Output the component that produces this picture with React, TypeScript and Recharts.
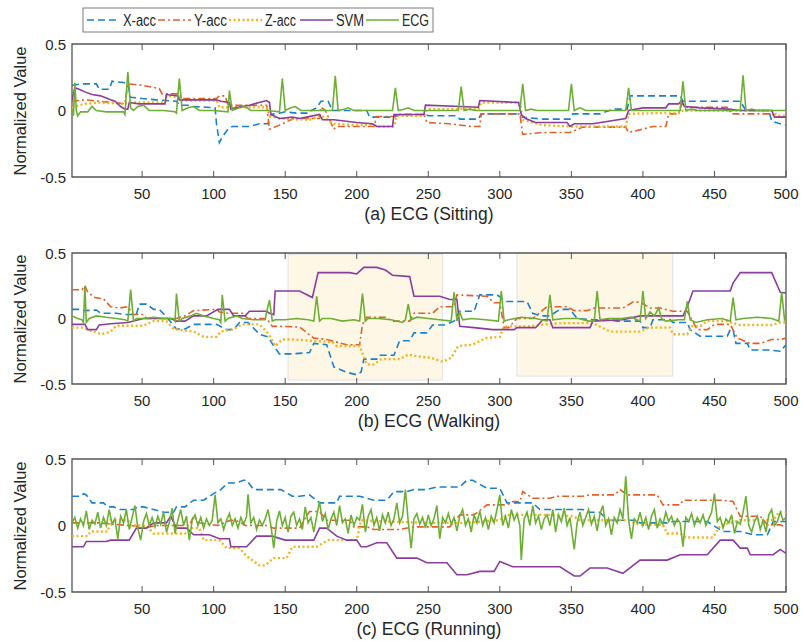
import { LineChart, Line, XAxis, YAxis, ReferenceArea } from 'recharts';

type Pt = [number, number];

const seriesNames = ['X-acc', 'Y-acc', 'Z-acc', 'SVM', 'ECG'];
const panelTitles = ['(a) ECG (Sitting)', '(b) ECG (Walking)', '(c) ECG (Running)'];
const xTicks = [50, 100, 150, 200, 250, 300, 350, 400, 450, 500];
const yTicks = [-0.5, 0, 0.5];
// highlighted windows in the walking panel: [from, to, low, high]
const walkWindows: [number, number, number, number][] = [
  [152, 260, -0.47, 0.49],
  [312, 421, -0.44, 0.5],
];

// ---- (a) sitting ----
const sitX: Pt[] = [[1,0.19],[8,0.2],[18,0.2],[20,0.16],[27,0.16],[29,0.22],[37,0.21],[40,0.2],[42,0.1],[50,0.09],[60,0.08],[74,0.07],[76,0.04],[82,0.04],[85,0.03],[95,0.025],[101,0.02],[102,-0.1],[104,-0.24],[106,-0.2],[110,-0.14],[113,-0.12],[125,-0.12],[132,-0.1],[138,-0.1],[140,-0.03],[146,-0.02],[150,-0.01],[158,-0.02],[167,-0.02],[168,0.0],[172,0.02],[175,0.07],[180,0.07],[183,0.0],[207,0.0],[209,-0.05],[226,-0.05],[230,-0.03],[248,-0.03],[250,-0.04],[270,-0.04],[272,-0.065],[285,-0.065],[287,-0.025],[312,-0.025],[316,-0.05],[330,-0.065],[349,-0.065],[351,-0.025],[370,-0.025],[379,0.01],[389,0.01],[391,0.11],[426,0.11],[428,0.07],[468,0.07],[472,0.0],[488,0.0],[490,-0.08],[496,-0.1],[500,-0.11]];
const sitY: Pt[] = [[1,0.07],[10,0.08],[20,0.07],[30,0.06],[38,0.05],[40,0.2],[50,0.19],[62,0.165],[64,0.125],[76,0.125],[78,0.09],[102,0.09],[104,0.11],[108,0.11],[110,0.04],[125,0.04],[137,0.04],[139,-0.14],[146,-0.11],[156,-0.06],[167,-0.06],[174,-0.06],[175,0.025],[178,0.0],[184,-0.14],[186,-0.12],[212,-0.12],[214,-0.045],[226,-0.045],[228,-0.03],[247,-0.03],[249,-0.09],[265,-0.1],[280,-0.12],[286,-0.12],[287,-0.025],[314,-0.025],[316,-0.18],[330,-0.165],[349,-0.165],[358,-0.125],[388,-0.125],[390,-0.165],[400,-0.14],[407,-0.12],[416,-0.12],[418,-0.025],[425,-0.025],[427,0.05],[431,0.025],[459,0.025],[462,-0.025],[490,-0.025],[494,-0.05],[500,-0.05]];
const sitZ: Pt[] = [[1,0.02],[6,0.04],[10,0.05],[20,0.06],[38,0.05],[40,0.06],[66,0.06],[67,0.11],[76,0.1],[78,0.075],[102,0.075],[104,0.025],[137,0.025],[139,-0.04],[146,-0.06],[167,-0.07],[175,-0.04],[184,-0.1],[200,-0.11],[211,-0.11],[214,-0.12],[226,-0.12],[228,-0.04],[247,-0.04],[249,0.01],[285,0.01],[287,0.06],[314,0.06],[316,-0.07],[330,-0.11],[349,-0.12],[388,-0.12],[390,-0.025],[410,-0.02],[426,-0.02],[428,0.0],[490,0.0],[494,-0.04],[500,-0.04]];
const sitS: Pt[] = [[1,0.08],[3,0.17],[6,0.16],[10,0.14],[15,0.12],[21,0.11],[28,0.08],[31,0.07],[35,0.03],[38,0.01],[40,0.01],[41,0.06],[48,0.05],[66,0.05],[67,0.12],[75,0.11],[76,0.08],[102,0.08],[105,0.07],[111,0.06],[112,0.01],[115,0.02],[125,0.04],[137,0.075],[139,0.06],[140,-0.03],[146,-0.06],[155,-0.05],[160,-0.06],[165,-0.05],[174,-0.03],[176,-0.07],[184,-0.07],[200,-0.09],[211,-0.1],[214,-0.12],[225,-0.12],[226,-0.03],[247,-0.03],[248,0.04],[285,0.025],[286,0.075],[313,0.06],[315,-0.03],[318,-0.06],[325,-0.09],[347,-0.09],[349,-0.12],[352,-0.1],[365,-0.1],[388,-0.06],[390,0.0],[400,0.02],[416,0.02],[418,0.05],[425,0.05],[427,0.075],[429,0.03],[440,0.02],[460,0.01],[468,0.0],[490,0.0],[492,-0.05],[500,-0.05]];
const sitECG: Pt[] = [[1,0.0],[2,-0.04],[3,0.21],[4,0.0],[5,-0.04],[7,-0.01],[12,-0.01],[15,0.03],[18,0.0],[25,-0.01],[37,-0.01],[38,-0.03],[40,0.29],[42,0.02],[44,0.0],[47,0.03],[51,0.04],[55,0.0],[65,0.0],[73,-0.01],[74,-0.02],[76,0.24],[78,0.0],[82,0.02],[86,0.03],[90,0.0],[100,0.0],[110,-0.01],[111,0.15],[113,0.0],[118,0.02],[122,0.03],[126,0.0],[138,0.0],[146,-0.01],[148,0.24],[150,0.0],[154,0.02],[157,0.03],[161,0.0],[175,0.0],[183,0.0],[185,0.26],[187,0.0],[191,0.01],[194,0.02],[198,0.0],[210,0.0],[225,0.0],[227,0.17],[229,0.0],[233,0.01],[236,0.02],[240,0.0],[260,0.0],[271,0.0],[273,0.18],[275,0.0],[279,0.01],[283,0.0],[300,0.0],[314,0.0],[316,0.2],[318,0.0],[322,0.01],[326,0.0],[340,0.0],[348,0.0],[350,0.2],[352,0.0],[356,0.02],[360,0.0],[375,0.0],[388,0.0],[390,0.17],[392,0.0],[396,0.0],[410,0.0],[426,0.0],[428,0.22],[430,0.0],[434,0.01],[438,0.0],[455,0.0],[468,0.0],[470,0.265],[472,0.0],[476,0.01],[480,0.0],[500,0.0]];

// ---- (b) walking ----
const walkX: Pt[] = [[1,0.07],[8,0.07],[10,0.06],[18,0.065],[21,0.04],[32,0.04],[39,0.03],[46,0.03],[48,0.11],[53,0.11],[58,0.07],[62,0.07],[68,0.0],[74,-0.08],[80,-0.08],[86,-0.045],[102,-0.045],[109,-0.085],[114,-0.085],[118,-0.03],[124,-0.03],[132,-0.12],[138,-0.14],[142,-0.21],[146,-0.27],[155,-0.27],[167,-0.26],[170,-0.19],[179,-0.2],[184,-0.37],[193,-0.41],[200,-0.43],[203,-0.41],[205,-0.31],[214,-0.31],[216,-0.28],[226,-0.28],[230,-0.17],[237,-0.17],[240,-0.11],[249,-0.11],[253,-0.05],[261,-0.05],[268,-0.02],[272,0.055],[282,0.055],[286,0.18],[298,0.18],[305,0.13],[319,0.13],[323,0.04],[328,0.02],[335,0.02],[342,0.07],[349,0.07],[354,0.0],[365,-0.01],[375,-0.01],[382,-0.02],[398,-0.02],[400,-0.07],[405,-0.07],[407,-0.01],[419,-0.01],[421,-0.03],[431,-0.03],[433,-0.085],[440,-0.135],[459,-0.135],[461,-0.085],[463,-0.085],[465,-0.19],[473,-0.19],[475,-0.24],[487,-0.24],[496,-0.25],[500,-0.2]];
const walkY: Pt[] = [[1,0.22],[8,0.22],[10,0.25],[12,0.2],[17,0.16],[23,0.15],[28,0.09],[34,0.08],[40,0.09],[44,0.03],[51,0.03],[53,0.0],[74,0.0],[80,0.02],[86,0.06],[102,0.07],[104,0.05],[110,0.04],[120,0.04],[124,0.0],[137,0.0],[141,-0.06],[148,-0.06],[160,-0.065],[170,-0.15],[179,-0.16],[193,-0.2],[202,-0.2],[204,-0.045],[207,0.01],[220,0.01],[225,-0.02],[237,-0.02],[240,0.04],[253,0.04],[258,0.09],[268,0.09],[270,0.18],[291,0.17],[296,0.12],[300,0.12],[303,-0.07],[306,-0.07],[312,0.0],[323,0.0],[333,0.09],[347,0.09],[352,0.06],[361,0.06],[366,0.08],[386,0.08],[393,0.125],[398,0.125],[405,0.08],[412,0.08],[421,0.055],[431,0.055],[438,-0.085],[445,-0.085],[450,-0.045],[461,-0.045],[466,-0.15],[475,-0.19],[482,-0.19],[490,-0.16],[496,-0.16],[500,-0.15]];
const walkZ: Pt[] = [[1,-0.07],[8,-0.07],[16,-0.1],[22,-0.12],[28,-0.1],[32,-0.055],[51,-0.055],[58,-0.02],[67,-0.02],[72,-0.08],[86,-0.1],[93,-0.14],[102,-0.14],[105,-0.1],[114,-0.08],[120,-0.045],[132,-0.045],[137,-0.1],[140,-0.15],[143,-0.21],[148,-0.16],[155,-0.16],[168,-0.17],[183,-0.18],[186,-0.21],[202,-0.21],[207,-0.35],[212,-0.35],[217,-0.31],[230,-0.31],[236,-0.275],[243,-0.29],[252,-0.3],[260,-0.33],[266,-0.3],[271,-0.21],[281,-0.2],[290,-0.15],[300,-0.14],[303,-0.06],[320,-0.06],[335,-0.04],[348,-0.035],[365,-0.035],[377,-0.1],[398,-0.1],[404,-0.07],[419,-0.07],[421,-0.12],[431,-0.12],[434,-0.06],[440,-0.06],[445,-0.02],[458,-0.02],[468,-0.05],[490,-0.05],[496,-0.03],[500,-0.03]];
const walkS: Pt[] = [[1,-0.045],[10,-0.045],[12,-0.085],[18,-0.085],[20,-0.05],[28,-0.04],[40,-0.03],[51,0.0],[70,0.0],[74,-0.02],[80,-0.02],[86,0.02],[95,0.02],[103,0.07],[111,0.07],[114,0.02],[122,0.02],[125,0.055],[137,0.055],[139,0.04],[142,0.03],[143,0.21],[150,0.21],[160,0.21],[169,0.16],[173,0.35],[177,0.35],[195,0.35],[200,0.34],[205,0.39],[214,0.39],[220,0.37],[225,0.33],[237,0.32],[240,0.17],[258,0.17],[265,0.145],[270,0.145],[272,-0.06],[282,-0.07],[295,-0.085],[310,-0.085],[312,-0.07],[325,-0.07],[330,-0.01],[335,-0.01],[337,-0.07],[363,-0.07],[365,-0.02],[386,-0.01],[398,0.02],[428,0.02],[431,0.09],[435,0.21],[461,0.21],[463,0.27],[468,0.35],[490,0.35],[496,0.2],[500,0.195]];
const walkECG: Pt[] = [[1,0.02],[5,0.0],[8,-0.01],[9,-0.03],[10,0.25],[11,-0.03],[13,0.0],[18,0.02],[25,0.01],[32,0.0],[38,-0.01],[40,-0.02],[42,0.22],[44,-0.02],[46,0.0],[52,0.0],[58,0.01],[65,0.0],[72,0.0],[73,-0.02],[74,0.19],[76,-0.02],[78,0.0],[84,0.02],[88,0.04],[93,0.02],[100,0.0],[104,-0.01],[105,-0.03],[106,0.18],[108,-0.02],[110,0.0],[116,0.02],[120,0.0],[128,-0.01],[136,-0.01],[137,0.05],[139,0.14],[141,-0.02],[143,-0.01],[150,-0.01],[158,0.0],[166,-0.01],[170,-0.02],[172,0.17],[174,-0.02],[176,0.0],[182,0.0],[190,-0.02],[198,-0.01],[202,-0.02],[204,0.19],[206,-0.02],[208,0.0],[215,0.0],[224,-0.01],[232,-0.03],[234,-0.01],[236,0.11],[238,-0.01],[242,0.01],[250,0.0],[258,-0.01],[266,-0.02],[268,0.2],[270,-0.02],[272,0.05],[274,-0.01],[280,0.0],[290,-0.01],[299,-0.02],[301,0.21],[303,-0.02],[306,-0.01],[315,0.01],[325,0.0],[333,-0.02],[335,0.18],[337,-0.01],[345,0.0],[355,0.0],[362,-0.02],[366,-0.02],[368,0.21],[370,-0.01],[376,0.0],[385,0.0],[392,0.01],[398,-0.02],[400,0.21],[402,0.0],[405,0.05],[408,0.02],[411,0.08],[413,0.0],[416,-0.02],[425,-0.01],[429,-0.01],[431,0.13],[433,-0.01],[437,-0.03],[445,-0.01],[455,0.0],[461,-0.02],[463,0.16],[465,-0.01],[470,0.0],[480,0.01],[490,0.0],[495,-0.02],[497,0.2],[499,-0.01],[500,0.0]];

// ---- (c) running ----
const runX: Pt[] = [[1,0.22],[7,0.22],[9,0.24],[11,0.23],[15,0.17],[23,0.17],[26,0.14],[30,0.14],[35,0.12],[44,0.12],[47,0.14],[51,0.14],[58,0.12],[65,0.1],[72,0.1],[74,0.14],[80,0.14],[86,0.19],[93,0.19],[100,0.24],[105,0.27],[110,0.32],[116,0.32],[121,0.34],[123,0.34],[128,0.27],[147,0.27],[155,0.22],[160,0.22],[167,0.23],[174,0.17],[186,0.17],[188,0.22],[202,0.22],[212,0.19],[221,0.19],[226,0.255],[235,0.255],[240,0.27],[249,0.27],[256,0.29],[272,0.29],[277,0.34],[281,0.34],[291,0.28],[300,0.28],[305,0.17],[323,0.17],[328,0.12],[335,0.12],[352,0.12],[358,0.12],[363,0.1],[370,0.1],[375,0.04],[394,0.04],[398,0.02],[417,0.02],[421,0.03],[445,0.03],[456,-0.045],[468,-0.045],[477,-0.07],[487,-0.07],[491,0.03],[500,0.03]];
const runY: Pt[] = [[1,0.02],[20,0.02],[40,0.0],[55,-0.01],[60,0.0],[83,0.0],[86,0.07],[90,0.02],[103,0.0],[112,0.04],[118,0.03],[122,0.0],[137,0.0],[142,-0.02],[160,-0.02],[164,0.055],[167,0.105],[174,0.105],[179,0.04],[195,0.04],[198,-0.01],[207,-0.01],[212,-0.03],[230,-0.03],[240,-0.01],[265,-0.01],[272,0.08],[282,0.08],[291,0.155],[305,0.155],[309,0.18],[314,0.18],[316,0.255],[323,0.205],[335,0.205],[340,0.22],[358,0.22],[363,0.23],[380,0.23],[384,0.27],[389,0.23],[410,0.23],[414,0.155],[426,0.155],[428,0.19],[456,0.19],[463,0.18],[468,0.07],[482,0.07],[487,0.005],[496,0.005],[500,-0.01]];
const runZ: Pt[] = [[1,-0.08],[12,-0.08],[14,-0.045],[26,-0.045],[28,0.04],[40,0.04],[42,0.0],[53,0.0],[58,-0.06],[80,-0.06],[84,-0.02],[90,-0.02],[93,-0.11],[104,-0.11],[109,-0.17],[118,-0.17],[123,-0.23],[132,-0.3],[136,-0.3],[142,-0.245],[151,-0.245],[155,-0.16],[172,-0.16],[180,-0.11],[200,-0.11],[203,0.04],[220,0.03],[250,0.02],[277,0.02],[300,0.04],[305,0.08],[335,0.08],[351,0.07],[356,0.04],[389,0.04],[398,0.005],[414,0.005],[417,-0.06],[426,-0.06],[430,-0.09],[449,-0.09],[454,0.0],[468,0.04],[491,0.04],[495,0.1],[500,0.1]];
const runS: Pt[] = [[1,-0.16],[9,-0.16],[11,-0.12],[25,-0.12],[28,-0.11],[41,-0.11],[46,-0.02],[53,-0.02],[58,0.02],[67,0.02],[70,0.07],[74,-0.02],[81,-0.02],[86,-0.07],[97,-0.07],[104,-0.1],[111,-0.1],[112,-0.16],[123,-0.16],[130,-0.08],[141,-0.08],[150,-0.11],[170,-0.11],[174,-0.02],[179,-0.02],[186,-0.08],[193,-0.11],[200,-0.11],[203,-0.16],[207,-0.16],[214,-0.13],[221,-0.13],[228,-0.245],[242,-0.245],[249,-0.28],[263,-0.28],[270,-0.37],[277,-0.37],[286,-0.345],[296,-0.345],[300,-0.27],[309,-0.31],[342,-0.31],[352,-0.38],[356,-0.38],[363,-0.32],[375,-0.32],[386,-0.36],[398,-0.26],[417,-0.26],[426,-0.22],[445,-0.22],[454,-0.11],[463,-0.11],[468,-0.17],[473,-0.17],[475,-0.22],[491,-0.22],[496,-0.18],[500,-0.21]];
const runECG: Pt[] = [[1,0.02],[3,0.06],[5,-0.02],[7,0.05],[9,0.0],[11,0.11],[13,-0.03],[15,0.04],[17,0.01],[19,0.1],[21,-0.02],[23,0.06],[25,0.0],[27,0.12],[29,0.01],[31,0.05],[33,-0.1],[35,0.07],[37,0.02],[39,0.12],[41,-0.03],[43,0.06],[45,0.15],[47,-0.02],[49,-0.11],[51,0.03],[53,0.09],[55,0.0],[57,0.06],[59,-0.01],[61,0.07],[63,0.01],[65,0.1],[67,-0.05],[69,0.02],[71,0.13],[73,-0.06],[75,0.04],[77,0.12],[79,0.0],[81,0.07],[83,-0.11],[85,0.04],[87,0.08],[89,0.0],[91,0.06],[93,-0.02],[95,0.05],[97,0.0],[99,0.04],[101,0.23],[103,0.02],[105,0.05],[107,-0.03],[109,0.04],[111,0.09],[113,0.0],[115,0.05],[117,-0.02],[119,0.06],[121,0.01],[123,0.07],[124,0.235],[126,0.02],[128,0.06],[130,-0.03],[132,0.04],[134,0.0],[136,0.05],[138,0.12],[140,0.0],[142,-0.17],[144,0.03],[146,0.11],[148,0.0],[150,0.06],[152,-0.05],[154,0.07],[156,0.1],[158,0.0],[160,0.05],[162,-0.03],[164,0.14],[166,0.02],[168,0.06],[170,-0.05],[172,0.07],[174,0.18],[176,0.03],[178,0.09],[180,-0.03],[182,0.05],[184,0.1],[186,0.0],[188,0.15],[190,0.02],[192,0.05],[194,-0.06],[196,0.08],[198,0.0],[200,0.06],[202,0.04],[204,0.16],[206,-0.05],[208,0.07],[210,0.12],[212,0.0],[214,0.06],[216,-0.04],[218,0.08],[220,0.02],[222,0.1],[224,0.0],[226,0.05],[228,0.17],[230,0.02],[232,0.07],[234,0.27],[236,0.03],[238,-0.17],[240,0.05],[242,0.09],[244,0.01],[246,0.06],[248,-0.02],[250,0.08],[252,0.0],[254,0.05],[256,0.15],[258,-0.1],[260,0.06],[262,0.02],[264,0.09],[266,0.01],[268,0.06],[270,-0.04],[272,0.07],[274,0.12],[276,0.0],[278,0.05],[280,-0.05],[282,0.08],[284,0.02],[286,0.11],[288,0.0],[290,0.06],[292,-0.03],[294,0.07],[296,0.02],[298,0.12],[300,0.23],[302,0.0],[304,0.07],[306,-0.02],[308,0.12],[310,0.04],[312,0.09],[314,0.0],[315,-0.26],[317,0.05],[319,0.1],[321,0.0],[323,0.15],[325,0.02],[327,0.07],[329,-0.03],[331,0.05],[333,0.08],[335,0.0],[337,0.12],[339,-0.05],[341,0.08],[343,0.03],[345,0.13],[347,0.0],[349,0.06],[352,-0.18],[354,0.02],[356,0.1],[358,0.0],[360,0.06],[362,0.12],[364,0.01],[366,0.07],[368,-0.04],[370,0.09],[372,0.15],[374,0.0],[376,0.05],[378,-0.07],[380,0.06],[382,0.02],[384,0.12],[386,0.05],[388,0.37],[390,0.04],[392,-0.1],[394,0.05],[396,0.02],[398,0.1],[400,0.0],[402,0.06],[404,-0.03],[406,0.07],[408,0.12],[410,-0.02],[412,0.05],[414,0.01],[416,0.1],[418,0.03],[420,0.07],[422,0.0],[424,0.05],[426,0.02],[428,-0.16],[430,0.06],[432,0.03],[434,0.09],[436,0.0],[438,0.06],[440,0.02],[442,0.08],[444,0.0],[446,0.05],[448,0.1],[450,0.24],[452,0.03],[454,0.06],[456,-0.02],[458,0.05],[460,0.02],[462,0.08],[464,-0.06],[466,0.03],[468,0.01],[470,0.1],[472,0.22],[474,0.0],[476,-0.05],[478,0.03],[480,0.07],[482,-0.03],[484,0.04],[486,-0.05],[488,0.08],[490,0.12],[492,0.0],[494,0.03],[496,0.1],[498,0.04],[500,0.06]];

const FONT = '"Liberation Sans", Arial, Helvetica, sans-serif';
const TEXT = '#262626';
const AXIS = '#555';

const STYLES = [
  { color: '#1a80cc', dash: '7 4', width: 1.6 },
  { color: '#e0602a', dash: '7 3 2 3', width: 1.6 },
  { color: '#f2b31e', dash: '2 2.5', width: 2.4 },
  { color: '#8b3d9e', dash: undefined, width: 1.6 },
  { color: '#6fae35', dash: undefined, width: 1.6 },
];

const toRows = (pts: Pt[]) => pts.map(([x, y]) => ({ x, y }));

const fmtY = (v: number) => (v === 0 ? '0' : String(v));

function Panel({ top, plotH, title, series, windows }: {
  top: number; plotH: number; title: string; series: Pt[][]; windows?: [number, number, number, number][];
}) {
  const mTop = 10;
  const plotBottom = mTop + plotH;
  const XTick = (p: any) => (
    <g>
      <line x1={p.x} x2={p.x} y1={plotBottom} y2={plotBottom - 6} stroke={AXIS} />
      <line x1={p.x} x2={p.x} y1={mTop} y2={mTop + 6} stroke={AXIS} />
      <text x={p.x} y={plotBottom + 16} textAnchor="middle" dominantBaseline="central"
        fontFamily={FONT} fontSize={15} fill={TEXT}>{p.payload.value}</text>
    </g>
  );
  const YTick = (p: any) => (
    <text x={66} y={p.y} textAnchor="end" dominantBaseline="central"
      fontFamily={FONT} fontSize={15} fill={TEXT}>{fmtY(p.payload.value)}</text>
  );
  return (
    <div style={{ position: 'absolute', left: 0, top }}>
      <LineChart width={803} height={mTop + plotH + 34} margin={{ top: mTop, right: 17, bottom: 0, left: 12 }}>
        <XAxis type="number" dataKey="x" domain={[1, 500]} ticks={xTicks} interval={0} allowDataOverflow
          axisLine={false} tickLine={false} height={34} tick={XTick} />
        <YAxis type="number" domain={[-0.5, 0.5]} ticks={yTicks} interval={0} allowDataOverflow
          axisLine={false} tickLine={false} width={60} tick={YTick} />
        {(windows || []).map((w, i) => (
          <ReferenceArea key={'w' + i} x1={w[0]} x2={w[1]} y1={w[2]} y2={w[3]}
            fill="#fef7e6" fillOpacity={1} stroke="#e2e2e2" strokeWidth={1} />
        ))}
        {series.map((s, i) => (
          <Line key={seriesNames[i]} data={toRows(s)} dataKey="y" name={seriesNames[i]} type="linear"
            stroke={STYLES[i].color} strokeWidth={STYLES[i].width} strokeDasharray={STYLES[i].dash}
            dot={false} activeDot={false} isAnimationActive={false} />
        ))}
        <ReferenceArea x1={1} x2={500} y1={-0.5} y2={0.5} fill="none" stroke={AXIS} strokeWidth={1.3} />
      </LineChart>
      <div style={{
        position: 'absolute', left: 20, top: mTop + plotH / 2, transform: 'translate(-50%, -50%) rotate(-90deg)',
        whiteSpace: 'nowrap', fontFamily: FONT, fontSize: 16.5, color: TEXT,
      }}>Normalized Value</div>
      <div style={{
        position: 'absolute', left: 429, top: plotBottom + 37, transform: 'translate(-50%, -50%)',
        whiteSpace: 'nowrap', fontFamily: FONT, fontSize: 17.5, color: TEXT,
      }}>{title}</div>
    </div>
  );
}

// left edge of each legend sample inside the box, and the squeezed width of each label
const legendSlots = [5, 76, 147, 218, 284];
const legendTextW = [33, 33, 31, 28, 27];

function LegendBox() {
  return (
    <svg width={372} height={26} style={{ position: 'absolute', left: 82, top: 7, overflow: 'visible' }}>
      <rect x={1} y={1} width={350} height={24} fill="#fff" stroke="#7a7a7a" strokeWidth={1} />
      {seriesNames.map((n, i) => (
        <g key={n}>
          <line x1={legendSlots[i]} x2={legendSlots[i] + 33} y1={13} y2={13} stroke={STYLES[i].color}
            strokeWidth={STYLES[i].width} strokeDasharray={STYLES[i].dash} />
          <text x={legendSlots[i] + 36} y={13} dominantBaseline="central" fontFamily={FONT} fontSize={16}
            fill={TEXT} textLength={legendTextW[i]} lengthAdjust="spacingAndGlyphs">{n}</text>
        </g>
      ))}
    </svg>
  );
}

export default function App() {
  return (
    <div style={{ position: 'fixed', left: 0, top: 0, width: 803, height: 641, background: '#fff', overflow: 'hidden' }}>
      <Panel top={34} plotH={133} title={panelTitles[0]} series={[sitX, sitY, sitZ, sitS, sitECG]} />
      <Panel top={243} plotH={131} title={panelTitles[1]} series={[walkX, walkY, walkZ, walkS, walkECG]} windows={walkWindows} />
      <Panel top={449} plotH={133} title={panelTitles[2]} series={[runX, runY, runZ, runS, runECG]} />
      <LegendBox />
    </div>
  );
}
